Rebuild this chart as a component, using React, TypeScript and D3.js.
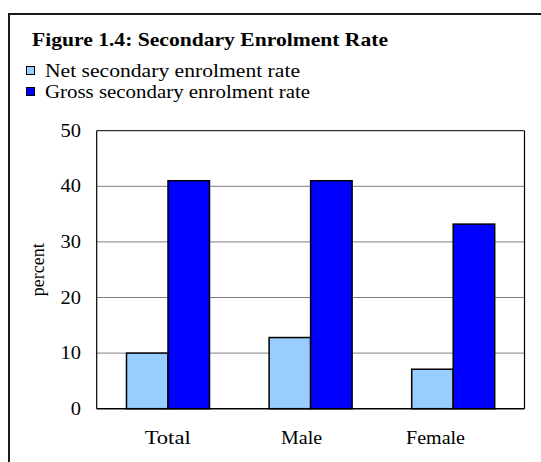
import React from "react";
import * as d3 from "d3";

// Secondary enrolment rates by group (percent)
const categories = ["Total", "Male", "Female"];
const seriesNames = ["Net  secondary enrolment rate", "Gross secondary enrolment rate"];
const netRate = [10, 12.8, 7.1];
const grossRate = [41, 41, 33.2];
const seriesColors = ["#99CCFF", "#0000FF"];
const yTicks = [0, 10, 20, 30, 40, 50];

const W = 541;
const H = 462;
const plot = { left: 96.7, right: 524.5, top: 130.7, bottom: 408.7 };
const serif = "'Liberation Serif', 'Times New Roman', serif";

// widths of the wide-set labels
const legendWidths = [255, 265];
const categoryWidths = [46, 41, 59];

export default function App() {
  const x = d3.scaleBand<string>().domain(categories).range([plot.left, plot.right]).padding(0);
  // category labels sit on a slightly narrower band than the bar groups
  const xLabel = d3.scaleBand<string>().domain(categories).range([plot.left + 4, plot.right - 22]).padding(0);
  const inner = d3
    .scaleBand<number>()
    .domain([0, 1])
    .range([0, x.bandwidth()])
    .paddingInner(0)
    .paddingOuter(0.718);
  const y = d3.scaleLinear().domain([0, 50]).range([plot.bottom, plot.top]);
  const series = [netRate, grossRate];

  return (
    <svg
      width={W}
      height={H}
      style={{ position: "absolute", left: 0, top: 0, background: "#fff" }}
      fontFamily={serif}
    >
      <rect x={0} y={0} width={W} height={H} fill="#fff" />
      {/* outer frame */}
      <rect x={9} y={14} width={W + 20} height={H + 20} fill="none" stroke="#1a1a1a" strokeWidth={2} />

      {/* title */}
      <text
        x={32}
        y={46}
        fontSize={19}
        fontWeight="bold"
        fill="#000"
        textLength={356}
        lengthAdjust="spacingAndGlyphs"
      >
        Figure 1.4: Secondary Enrolment Rate
      </text>

      {/* legend */}
      {seriesNames.map((name, i) => (
        <g key={name} transform={`translate(0, ${i * 21})`}>
          <rect x={26.5} y={66.5} width={8} height={8} fill={seriesColors[i]} stroke="#000" strokeWidth={1} />
          <text
            x={45}
            y={76.5}
            fontSize={18}
            fill="#000"
            textLength={legendWidths[i]}
            lengthAdjust="spacingAndGlyphs"
          >
            {name}
          </text>
        </g>
      ))}

      {/* gridlines */}
      {yTicks
        .filter((t) => t > 0 && t < 50)
        .map((t) => (
          <line key={t} x1={plot.left} x2={plot.right} y1={y(t)} y2={y(t)} stroke="#808080" strokeWidth={1} />
        ))}

      {/* plot frame */}
      <line x1={plot.left} x2={plot.right} y1={y(50)} y2={y(50)} stroke="#000" strokeWidth={1} />
      <line x1={plot.right} x2={plot.right} y1={y(50)} y2={y(0)} stroke="#000" strokeWidth={1.2} />
      <line x1={plot.left} x2={plot.left} y1={y(50)} y2={y(0)} stroke="#000" strokeWidth={1.2} />

      {/* bars */}
      {categories.map((c, ci) =>
        series.map((vals, si) => {
          const bx = (x(c) as number) + (inner(si) as number);
          const top = y(vals[ci]);
          return (
            <rect
              key={c + si}
              x={bx}
              y={top}
              width={inner.bandwidth()}
              height={y(0) - top}
              fill={seriesColors[si]}
              stroke="#000"
              strokeWidth={1.5}
            />
          );
        })
      )}

      {/* x axis */}
      <line x1={plot.left} x2={plot.right} y1={y(0)} y2={y(0)} stroke="#000" strokeWidth={1.5} />

      {/* y tick labels */}
      {yTicks.map((t) => (
        <text
          key={t}
          x={81}
          y={y(t) + 6}
          fontSize={18}
          textAnchor="end"
          fill="#000"
          textLength={String(t).length * 10.2}
          lengthAdjust="spacingAndGlyphs"
        >
          {t}
        </text>
      ))}

      {/* y axis title */}
      <text
        transform={`translate(44, ${(plot.top + plot.bottom) / 2}) rotate(-90)`}
        fontSize={18}
        textAnchor="middle"
        fill="#000"
      >
        percent
      </text>

      {/* category labels */}
      {categories.map((c, ci) => (
        <text
          key={c}
          x={(xLabel(c) as number) + xLabel.bandwidth() / 2}
          y={444}
          fontSize={19}
          textAnchor="middle"
          fill="#000"
          textLength={categoryWidths[ci]}
          lengthAdjust="spacingAndGlyphs"
        >
          {c}
        </text>
      ))}
    </svg>
  );
}
